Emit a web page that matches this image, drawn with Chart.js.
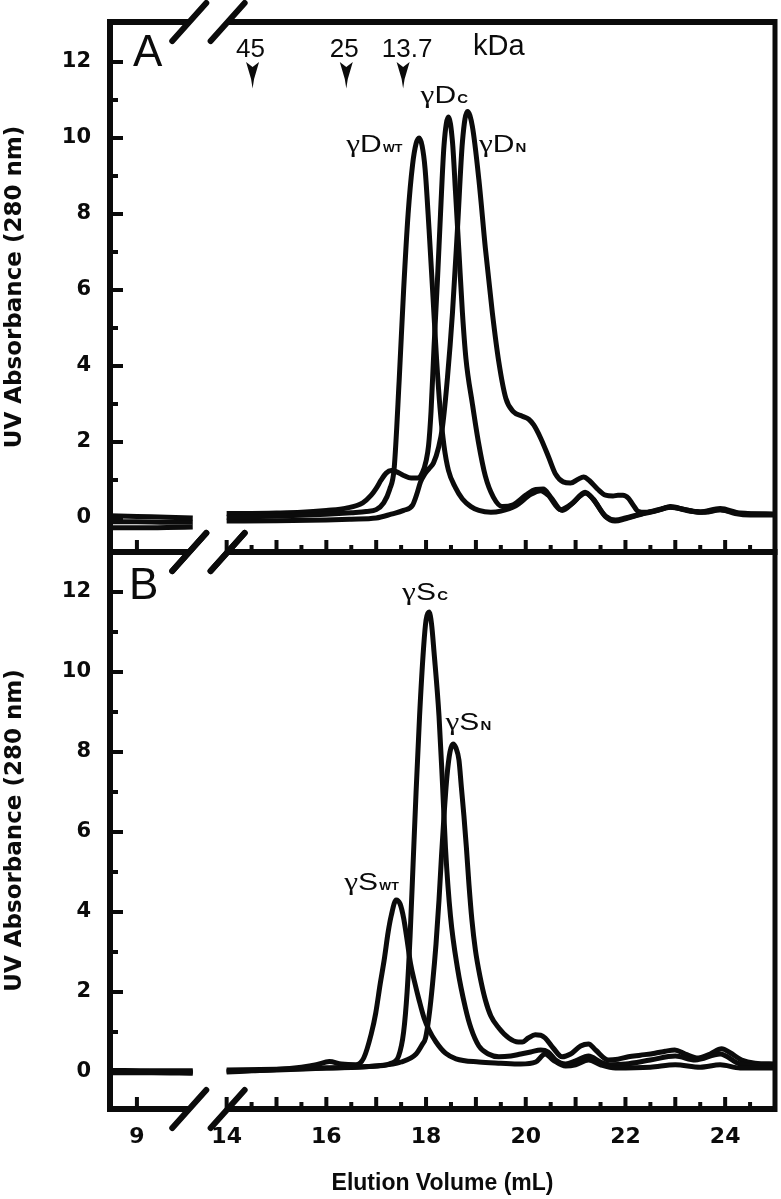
<!DOCTYPE html>
<html>
<head>
<meta charset="utf-8">
<title>Elution profiles</title>
<script src="https://cdn.jsdelivr.net/npm/chart.js@4.4.0/dist/chart.umd.min.js"></script>
<style>
  html, body { margin: 0; padding: 0; background: #fff; }
  #wrap { position: relative; width: 781px; height: 1199px; overflow: hidden; }
  canvas { position: absolute; left: 0; }
  #chartA { top: -40px; }
  #chartB { top: 500px; }
</style>
</head>
<body>
<div id="wrap">
  <canvas id="chartA" width="781" height="640"></canvas>
  <canvas id="chartB" width="781" height="699"></canvas>
</div>
<script>
// ==========================
// Axis setup (broken x axis: 8.5-10.2 | 14-25 mL)
// ==========================
const BREAK_LO = 10.2;
const BREAK_HI = 14;
const SHIFT = 3.2;          // how much of the x range is cut out
const GAP_U = 10.45;        // axis position used for the line gap
const X_MIN = 8.46;
const X_MAX = 25 - SHIFT;

const xTickVals = [9, 14, 16, 18, 20, 22, 24];
const xTickLabels = ['9', '14', '16', '18', '20', '22', '24'];
const xMajorTicks = [9, 14, 15, 16, 17, 18, 19, 20, 21, 22, 23, 24];
const xMinorTicks = [14.5, 15.5, 16.5, 17.5, 18.5, 19.5, 20.5, 21.5, 22.5, 23.5, 24.5];
const yTicks = [0, 2, 4, 6, 8, 10, 12];
const yMinorTicks = [1, 3, 5, 7, 9, 11];
const breakAt = [10.05, 14.02];

// ==========================
// Panel A: gamma-D crystallin (mL, absorbance)
// ==========================
const dWT = [
  [8.46, 0.06], [9.0, 0.04], [9.6, 0.02], [10.12, 0.0],
  [14.0, 0.02], [14.5, 0.03], [15.0, 0.05], [15.5, 0.07], [16.0, 0.1], [16.5, 0.14],
  [16.8, 0.17], [17.0, 0.22], [17.15, 0.4], [17.27, 0.75], [17.36, 1.3], [17.46, 3.6],
  [17.55, 6.0], [17.64, 8.0], [17.73, 9.3], [17.8, 9.85], [17.86, 10.0], [17.92, 9.8],
  [17.98, 9.2], [18.06, 7.6], [18.14, 5.8], [18.21, 4.2], [18.28, 2.9], [18.36, 1.9],
  [18.45, 1.25], [18.59, 0.8], [18.73, 0.5], [18.9, 0.3], [19.06, 0.2], [19.3, 0.15],
  [19.5, 0.18], [19.8, 0.32], [20.1, 0.62], [20.3, 0.72], [20.45, 0.6], [20.7, 0.22],
  [20.9, 0.35], [21.2, 0.65], [21.35, 0.5], [21.6, 0.05], [21.8, -0.05], [22.0, 0.0],
  [22.3, 0.1], [22.6, 0.18], [22.9, 0.28], [23.2, 0.22], [23.5, 0.15], [23.9, 0.22],
  [24.2, 0.12], [24.5, 0.08], [25.0, 0.08]
];
const dC = [
  [8.46, -0.1], [9.0, -0.1], [9.6, -0.11], [10.12, -0.11],
  [14.0, 0.12], [14.5, 0.12], [15.0, 0.13], [15.5, 0.15], [16.0, 0.2], [16.4, 0.26],
  [16.73, 0.4], [16.9, 0.6], [17.0, 0.78], [17.1, 1.0], [17.2, 1.18], [17.3, 1.25],
  [17.4, 1.22], [17.55, 1.12], [17.7, 1.05], [17.83, 1.05], [17.93, 1.2], [18.0, 1.5],
  [18.05, 1.9], [18.1, 2.8], [18.16, 4.5], [18.23, 6.3], [18.29, 8.0], [18.36, 9.8],
  [18.45, 10.55], [18.53, 9.9], [18.59, 8.6], [18.66, 7.0], [18.73, 5.4], [18.8, 4.2],
  [18.93, 3.0], [19.05, 2.0], [19.19, 1.1], [19.35, 0.55], [19.53, 0.3], [19.75, 0.35],
  [20.0, 0.6], [20.2, 0.75], [20.35, 0.76], [20.5, 0.55], [20.73, 0.2], [20.95, 0.4],
  [21.19, 0.68], [21.35, 0.5], [21.59, 0.05], [21.79, -0.08], [22.0, -0.02], [22.26, 0.08],
  [22.6, 0.2], [22.9, 0.28], [23.3, 0.18], [23.6, 0.15], [23.9, 0.22], [24.3, 0.12],
  [25.0, 0.1]
];
const dN = [
  [8.46, -0.26], [9.0, -0.26], [9.6, -0.25], [10.12, -0.24],
  [14.0, -0.08], [15.0, -0.07], [16.0, -0.05], [16.5, -0.03], [17.0, 0.0], [17.3, 0.1],
  [17.55, 0.2], [17.73, 0.34], [17.82, 0.65], [17.89, 0.95], [17.97, 1.15], [18.06, 1.3],
  [18.15, 1.45], [18.25, 1.85], [18.33, 2.4], [18.43, 3.7], [18.53, 5.4], [18.63, 7.6],
  [18.73, 9.9], [18.83, 10.7], [18.93, 10.3], [19.06, 8.9], [19.19, 7.1], [19.33, 5.4],
  [19.46, 4.1], [19.6, 3.15], [19.75, 2.8], [19.93, 2.68], [20.06, 2.6], [20.16, 2.45],
  [20.3, 2.1], [20.46, 1.6], [20.6, 1.15], [20.75, 0.95], [20.9, 0.92], [21.05, 1.02],
  [21.16, 1.08], [21.28, 0.98], [21.45, 0.75], [21.6, 0.6], [21.75, 0.58], [21.85, 0.6],
  [21.95, 0.6], [22.06, 0.52], [22.15, 0.35], [22.25, 0.18], [22.4, 0.15], [22.7, 0.22],
  [22.9, 0.3], [23.2, 0.22], [23.5, 0.16], [23.9, 0.25], [24.3, 0.13], [25.0, 0.1]
];

// ==========================
// Panel B: gamma-S crystallin
// ==========================
const sWT = [
  [8.46, 0.02], [9.3, 0.01], [10.12, 0.0],
  [14.0, 0.0], [14.5, 0.03], [15.0, 0.06], [15.5, 0.12], [15.8, 0.18], [16.06, 0.26],
  [16.3, 0.2], [16.59, 0.18], [16.75, 0.35], [16.9, 0.95], [16.99, 1.47], [17.08, 2.2],
  [17.16, 2.8], [17.24, 3.5], [17.3, 3.9], [17.4, 4.3], [17.48, 4.2], [17.55, 3.85],
  [17.62, 3.3], [17.69, 2.7], [17.78, 2.2], [17.86, 1.8], [17.96, 1.35], [18.06, 1.05],
  [18.2, 0.75], [18.39, 0.47], [18.6, 0.33], [19.06, 0.25], [19.5, 0.22], [19.9, 0.2],
  [20.2, 0.25], [20.39, 0.45], [20.55, 0.3], [20.8, 0.15], [21.0, 0.18], [21.26, 0.3],
  [21.5, 0.18], [21.8, 0.1], [22.5, 0.12], [23.0, 0.18], [23.5, 0.12], [23.9, 0.18],
  [24.3, 0.1], [25.0, 0.1]
];
const sC = [
  [8.46, -0.02], [9.3, -0.02], [10.12, -0.03],
  [14.0, 0.02], [15.0, 0.05], [16.0, 0.1], [16.5, 0.12], [17.0, 0.15], [17.3, 0.22],
  [17.45, 0.4], [17.55, 1.0], [17.62, 2.0], [17.68, 3.4], [17.74, 5.2], [17.8, 7.0],
  [17.87, 8.9], [17.95, 10.6], [18.0, 11.3], [18.06, 11.5], [18.11, 11.2], [18.16, 10.5],
  [18.26, 8.9], [18.33, 7.2], [18.39, 5.6], [18.49, 3.9], [18.63, 2.6], [18.79, 1.6],
  [18.9, 1.1], [19.06, 0.65], [19.25, 0.45], [19.46, 0.38], [19.7, 0.4], [19.9, 0.45],
  [20.1, 0.5], [20.3, 0.55], [20.45, 0.5], [20.6, 0.3], [20.8, 0.2], [21.0, 0.28],
  [21.26, 0.4], [21.5, 0.25], [21.7, 0.18], [22.0, 0.2], [22.5, 0.3], [23.0, 0.4],
  [23.4, 0.3], [23.9, 0.45], [24.3, 0.2], [25.0, 0.15]
];
const sN = [
  [8.46, 0.04], [9.3, 0.03], [10.12, 0.03],
  [14.0, 0.05], [15.0, 0.07], [16.0, 0.1], [17.0, 0.15], [17.5, 0.25], [17.8, 0.45],
  [17.93, 0.7], [17.99, 0.85], [18.06, 1.4], [18.13, 2.2], [18.2, 3.2], [18.26, 4.3],
  [18.31, 5.4], [18.36, 6.4], [18.42, 7.4], [18.48, 8.0], [18.54, 8.2], [18.6, 8.1],
  [18.66, 7.8], [18.71, 7.1], [18.76, 6.4], [18.81, 5.6], [18.86, 4.7], [18.92, 3.8],
  [18.99, 3.05], [19.08, 2.4], [19.19, 1.8], [19.3, 1.4], [19.46, 1.1], [19.66, 0.85],
  [19.85, 0.75], [19.93, 0.75], [20.05, 0.85], [20.19, 0.93], [20.3, 0.92], [20.39, 0.85],
  [20.55, 0.6], [20.73, 0.38], [20.9, 0.45], [21.1, 0.65], [21.26, 0.7], [21.4, 0.55],
  [21.66, 0.3], [21.85, 0.32], [22.06, 0.38], [22.3, 0.42], [22.59, 0.47], [22.8, 0.52],
  [22.99, 0.55], [23.2, 0.45], [23.46, 0.35], [23.7, 0.45], [23.93, 0.58], [24.1, 0.48],
  [24.33, 0.3], [24.6, 0.22], [25.0, 0.2]
];

// ==========================
// Annotations
// ==========================
const markerLabels = ['45', '25', '13.7'];
const markerArrowX = [14.52, 16.4, 17.54];
const markerLabelX = [14.48, 16.36, 17.62];
const peakNamesA = ['D', 'D', 'D'];
const peakSubsA = ['WT', 'C', 'N'];
const peakPosA = [[16.4, 9.63], [17.89, 10.91], [19.06, 9.64]];
const peakNamesB = ['S', 'S', 'S'];
const peakSubsB = ['WT', 'C', 'N'];
const peakPosB = [[16.36, 4.55], [17.52, 11.8], [18.39, 8.55]];

const INK = '#0b0b0b';
const SANS = '"Liberation Sans", Arial, sans-serif';
const HEAVY = '"DejaVu Sans", sans-serif';

function toAxis(v) {
  return v >= BREAK_HI ? v - SHIFT : v;
}

function toPoints(pairs) {
  const pts = [];
  pairs.forEach(([v, a], i) => {
    if (i > 0 && pairs[i - 1][0] <= BREAK_LO && v >= BREAK_HI) pts.push({ x: GAP_U, y: null });
    pts.push({ x: toAxis(v), y: a });
  });
  return pts;
}

const NOTES = {
  chartA: { letter: 'A', letterAt: [8.92, 11.9], names: peakNamesA, subs: peakSubsA, pos: peakPosA, markers: true },
  chartB: { letter: 'B', letterAt: [8.84, 11.83], names: peakNamesB, subs: peakSubsB, pos: peakPosB, markers: false }
};

// ==========================
// Frame, inward ticks and break marks
// ==========================
const framePlugin = {
  id: 'frame',
  afterDraw(chart) {
    const { ctx, chartArea: a, scales: { x, y } } = chart;
    const px = v => x.getPixelForValue(toAxis(v));
    const g1 = px(breakAt[0]), g2 = px(breakAt[1]);
    ctx.save();
    ctx.strokeStyle = INK;
    ctx.lineWidth = 6;
    ctx.beginPath();
    ctx.moveTo(a.left, a.top - 3); ctx.lineTo(a.left, a.bottom + 3);
    [a.top, a.bottom].forEach(h => {
      ctx.moveTo(a.left - 3, h); ctx.lineTo(g1, h);
      ctx.moveTo(g2, h); ctx.lineTo(a.right + 2, h);
    });
    ctx.stroke();
    ctx.lineWidth = 5;
    ctx.beginPath();
    ctx.moveTo(a.right, a.top - 3); ctx.lineTo(a.right, a.bottom + 3);
    ctx.stroke();

    ctx.lineWidth = 4;
    ctx.beginPath();
    xMajorTicks.forEach(v => { const p = px(v); ctx.moveTo(p, a.bottom); ctx.lineTo(p, a.bottom - 12); });
    xMinorTicks.forEach(v => { const p = px(v); ctx.moveTo(p, a.bottom); ctx.lineTo(p, a.bottom - 7); });
    yTicks.forEach(v => { const p = y.getPixelForValue(v); ctx.moveTo(a.left, p); ctx.lineTo(a.left + 13, p); });
    yMinorTicks.forEach(v => { const p = y.getPixelForValue(v); ctx.moveTo(a.left, p); ctx.lineTo(a.left + 8, p); });
    ctx.stroke();

    ctx.lineWidth = 6;
    ctx.lineCap = 'round';
    ctx.beginPath();
    [a.top, a.bottom].forEach(h => [g1, g2].forEach(g => {
      ctx.moveTo(g - 17, h + 19); ctx.lineTo(g + 17, h - 19);
    }));
    ctx.stroke();
    ctx.restore();
  }
};

// ==========================
// Panel letters, peak names, size markers
// ==========================
const notesPlugin = {
  id: 'notes',
  afterDraw(chart) {
    const n = NOTES[chart.canvas.id];
    const { ctx, scales: { x, y } } = chart;
    const px = v => x.getPixelForValue(toAxis(v));
    const py = v => y.getPixelForValue(v);
    ctx.save();
    ctx.fillStyle = INK;
    ctx.textBaseline = 'alphabetic';
    ctx.textAlign = 'left';
    ctx.font = '44px ' + SANS;
    ctx.fillText(n.letter, px(n.letterAt[0]), py(n.letterAt[1]));

    n.names.forEach((name, i) => {
      const lx = px(n.pos[i][0]), ly = py(n.pos[i][1]);
      ctx.save();
      ctx.translate(lx, ly);
      ctx.scale(1.25, 1);
      ctx.font = '25px "Liberation Serif", serif';
      ctx.fillText('γ', 0, 0);
      let w = ctx.measureText('γ').width;
      ctx.font = '24px ' + SANS;
      ctx.fillText(name, w, 0);
      w += ctx.measureText(name).width;
      ctx.font = 'bold ' + (n.subs[i] === 'WT' ? 10 : 12) + 'px ' + SANS;
      ctx.fillText(n.subs[i], w + 1, 0);
      ctx.restore();
    });

    if (n.markers) {
      ctx.textAlign = 'center';
      ctx.font = '26px ' + SANS;
      markerLabels.forEach((t, i) => ctx.fillText(t, px(markerLabelX[i]), py(12.13)));
      ctx.font = '29px ' + SANS;
      ctx.fillText('kDa', px(19.46), py(12.18));
      markerArrowX.forEach(v => {
        const ax = px(v), top = py(12.0), tip = py(11.3);
        ctx.beginPath();
        ctx.moveTo(ax - 6.5, top);
        ctx.lineTo(ax, top + 5);
        ctx.lineTo(ax + 6.5, top);
        ctx.lineTo(ax + 1.5, top + 17);
        ctx.lineTo(ax, tip);
        ctx.lineTo(ax - 1.5, top + 17);
        ctx.closePath();
        ctx.fill();
      });
    }
    ctx.restore();
  }
};

function makeChart(id, sets, yMin, yMax, showX, pad) {
  return new Chart(document.getElementById(id), {
    type: 'line',
    data: {
      datasets: sets.map(s => ({
        data: toPoints(s),
        borderColor: INK,
        borderWidth: 5,
        pointRadius: 0,
        fill: false,
        spanGaps: false,
        cubicInterpolationMode: 'monotone'
      }))
    },
    options: {
      responsive: false,
      animation: false,
      events: [],
      layout: { padding: pad },
      plugins: { legend: { display: false }, tooltip: { enabled: false } },
      scales: {
        x: {
          type: 'linear',
          min: X_MIN,
          max: X_MAX,
          display: showX,
          grid: { display: false, drawTicks: false },
          border: { display: false },
          afterBuildTicks: s => { s.ticks = xTickVals.map(v => ({ value: toAxis(v) })); },
          afterFit: s => { s.height = showX ? 90 : 0; },
          ticks: {
            autoSkip: false,
            maxRotation: 0,
            padding: 15,
            color: INK,
            font: { family: HEAVY, size: 22, weight: 'bold' },
            callback: (v, i) => xTickLabels[i]
          },
          title: {
            display: true,
            text: 'Elution Volume (mL)',
            color: INK,
            padding: { top: 0, bottom: 2 },
            font: { family: SANS, size: 23, weight: 'bold' }
          }
        },
        y: {
          type: 'linear',
          min: yMin,
          max: yMax,
          grid: { display: false, drawTicks: false },
          border: { display: false },
          afterBuildTicks: s => { s.ticks = yTicks.map(v => ({ value: v })); },
          afterFit: s => { s.width = 110; },
          ticks: {
            padding: 19,
            color: INK,
            font: { family: HEAVY, size: 21, weight: 'bold' }
          },
          title: {
            display: true,
            text: 'UV Absorbance (280 nm)',
            color: INK,
            padding: { top: 1, bottom: 0 },
            font: { family: HEAVY, size: 23, weight: 'bold' }
          }
        }
      }
    },
    plugins: [framePlugin, notesPlugin]
  });
}

// canvas A starts 40px above the page, canvas B 500px down
makeChart('chartA', [dWT, dC, dN], -0.895, 13.053, false, { top: 62, right: 6, bottom: 48, left: 0 });
makeChart('chartB', [sWT, sC, sN], -0.925, 13.0, true, { top: 52, right: 6, bottom: 0, left: 0 });
</script>
</body>
</html>
